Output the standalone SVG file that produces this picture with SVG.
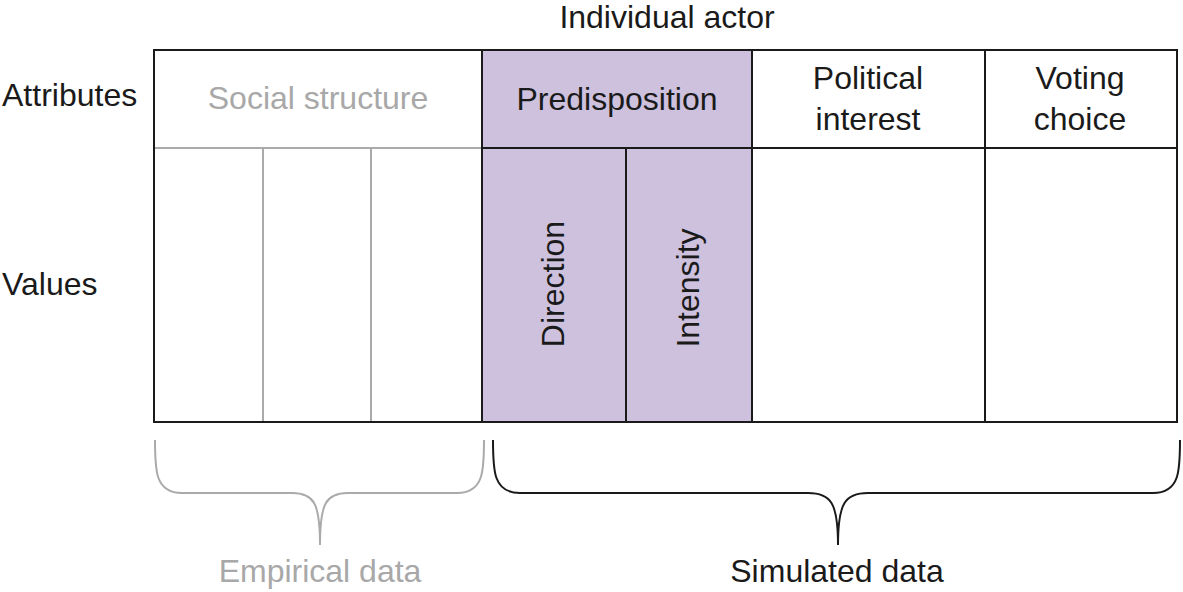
<svg xmlns="http://www.w3.org/2000/svg" width="1183" height="592" viewBox="0 0 1183 592">
<style>
text{font-family:"Liberation Sans",Arial,sans-serif;font-size:32px;fill:#1a1a1a}
.g{fill:#a8a8a8}
.c{text-anchor:middle}
.bk{stroke:#1a1a1a;stroke-width:2;fill:none}
.gr{stroke:#aaaaaa;stroke-width:2;fill:none}
.pu{fill:#cdc1de}
</style>
<rect x="0" y="0" width="1183" height="592" fill="#fff"/>
<g id="title"><text class="c" x="667" y="28">Individual actor</text></g>
<g id="row-labels">
<text x="2" y="106">Attributes</text>
<text x="2" y="295">Values</text>
</g>
<g id="purple-fill">
<rect class="pu" x="482" y="50" width="270" height="372"/>
</g>
<g id="social-structure">
<line class="gr" x1="154" y1="148" x2="482" y2="148"/>
<line class="gr" x1="263" y1="148" x2="263" y2="422"/>
<line class="gr" x1="371" y1="148" x2="371" y2="422"/>
<text class="c g" x="318" y="109">Social structure</text>
</g>
<g id="predisposition">
<line class="bk" x1="482" y1="148" x2="752" y2="148"/>
<line class="bk" x1="626" y1="148" x2="626" y2="422"/>
<text class="c" x="617" y="110">Predisposition</text>
<text class="c" transform="translate(564,284) rotate(-90)">Direction</text>
<text class="c" transform="translate(699,288) rotate(-90)">Intensity</text>
</g>
<g id="political-interest">
<line class="bk" x1="752" y1="148" x2="985" y2="148"/>
<text class="c" x="868" y="89">Political</text>
<text class="c" x="868" y="130">interest</text>
</g>
<g id="voting-choice">
<line class="bk" x1="985" y1="148" x2="1177" y2="148"/>
<text class="c" x="1080" y="89">Voting</text>
<text class="c" x="1080" y="130">choice</text>
</g>
<g id="grid">
<rect class="bk" x="154" y="50" width="1023" height="372"/>
<line class="bk" x1="482" y1="50" x2="482" y2="422"/>
<line class="bk" x1="752" y1="50" x2="752" y2="422"/>
<line class="bk" x1="985" y1="50" x2="985" y2="422"/>
</g>
<g id="connectors">
<path class="gr" d="M155,440 C155,470 155,493 182,493 L292,493 C314,493 320,503 320,545 C320,503 326,493 348,493 L457,493 C484,493 484,470 484,440"/>
<path class="bk" d="M493,440 C493,470 493,493 520,493 L808,493 C831,493 838,503 838,545 C838,503 845,493 868,493 L1153,493 C1180,493 1180,470 1180,440"/>
</g>
<g id="brace-labels">
<text class="c g" x="320" y="582">Empirical data</text>
<text class="c" x="837" y="582">Simulated data</text>
</g>
</svg>
